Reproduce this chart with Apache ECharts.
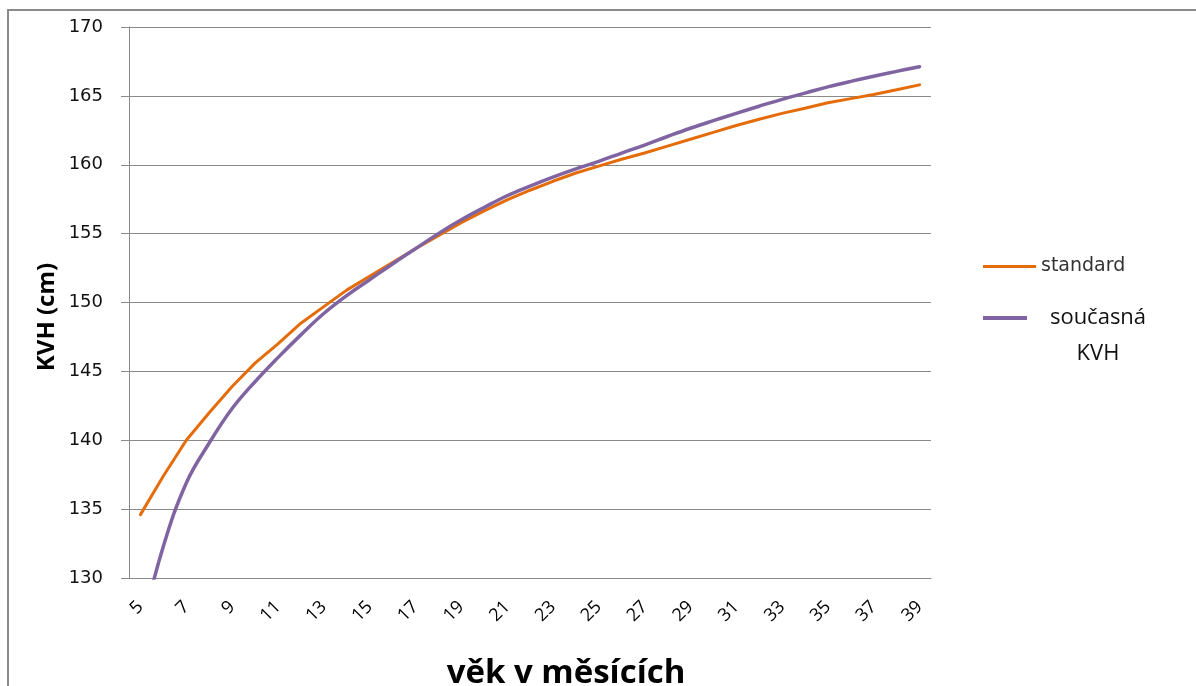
<!DOCTYPE html>
<html>
<head>
<meta charset="utf-8">
<script src="https://cdn.jsdelivr.net/npm/echarts@6/dist/echarts.min.js"></script>
<style>
  html, body { margin: 0; padding: 0; background: #fff; }
  #chart { width: 1196px; height: 686px; }
</style>
</head>
<body>
<div id="chart"></div>
<script>
// Age in months (category axis)
const months = ['5','6','7','8','9','10','11','12','13','14','15','16','17','18','19','20','21','22',
  '23','24','25','26','27','28','29','30','31','32','33','34','35','36','37','38','39'];

// Standard body height curve (cm)
const standard = [134.6, 137.4, 140.0, 142.0, 143.9, 145.6, 147.0, 148.5, 149.7, 150.9, 151.9, 152.9,
  153.9, 154.85, 155.8, 156.65, 157.45, 158.15, 158.8, 159.4, 159.9, 160.4, 160.85, 161.35, 161.85,
  162.35, 162.85, 163.3, 163.73, 164.1, 164.5, 164.8, 165.1, 165.45, 165.8];

// Current body height curve (cm)
const soucasna = [126.0, 132.3, 136.9, 139.8, 142.3, 144.25, 146.0, 147.65, 149.2, 150.5, 151.65,
  152.8, 153.9, 155.0, 156.0, 156.9, 157.75, 158.45, 159.1, 159.7, 160.25, 160.85, 161.43,
  162.05, 162.65, 163.2, 163.73, 164.25, 164.75, 165.2, 165.65, 166.05, 166.42, 166.78, 167.12];

// Value axis range
const yMin = 130, yMax = 170, yStep = 5;

const gridColor = '#8a8a8a';
const orange = '#E46C0A';
const purple = '#8064A2';

const chart = echarts.init(document.getElementById('chart'), null, { renderer: 'canvas' });

chart.setOption({
  backgroundColor: '#ffffff',
  animation: false,
  grid: { left: 129, right: 265, top: 27, bottom: 108, containLabel: false },
  xAxis: {
    type: 'category',
    data: months,
    boundaryGap: true,
    axisLine: { show: true, lineStyle: { color: gridColor, width: 1 } },
    axisTick: { show: false },
    axisLabel: {
      interval: 1,
      rotate: 45,
      margin: 26,
      fontFamily: 'Open Sans',
      fontSize: 18,
      color: '#000'
    },
    splitLine: { show: false }
  },
  yAxis: {
    type: 'value',
    min: yMin,
    max: yMax,
    interval: yStep,
    axisLine: { show: true, lineStyle: { color: gridColor, width: 1 } },
    axisTick: { show: true, inside: false, length: 8, lineStyle: { color: gridColor } },
    axisLabel: {
      margin: 26,
      fontFamily: 'DejaVu Sans',
      fontSize: 18,
      color: '#111'
    },
    splitLine: { show: true, lineStyle: { color: gridColor, width: 1 } }
  },
  legend: [
    {
      data: [{ name: 'standard', icon: 'rect' }],
      left: 983,
      top: 257,
      padding: 0,
      orient: 'vertical',
      itemWidth: 53,
      itemHeight: 3,
      itemGap: 0,
      textStyle: { fontFamily: 'DejaVu Sans', fontSize: 19, color: '#333' },
      selectedMode: false
    },
    {
      data: [{ name: 'současná KVH', icon: 'rect' }],
      left: 983,
      top: 264,
      padding: 0,
      orient: 'vertical',
      itemWidth: 44,
      itemHeight: 4,
      itemGap: 0,
      formatter: function () { return '\n{a|současná}\n{a|KVH}'; },
      textStyle: {
        fontFamily: 'Open Sans',
        fontSize: 22,
        lineHeight: 36,
        color: '#111',
        rich: {
          a: { fontFamily: 'Open Sans', fontSize: 22, lineHeight: 36, width: 132, align: 'center', color: '#111' }
        }
      },
      selectedMode: false
    }
  ],
  series: [
    {
      name: 'standard',
      type: 'line',
      data: standard,
      showSymbol: false,
      symbol: 'none',
      smooth: false,
      clip: true,
      lineStyle: { color: orange, width: 3, cap: 'round', join: 'round' },
      itemStyle: { color: orange }
    },
    {
      name: 'současná KVH',
      type: 'line',
      data: soucasna,
      showSymbol: false,
      symbol: 'none',
      smooth: 0.4,
      clip: true,
      lineStyle: { color: purple, width: 3.5, cap: 'round', join: 'round' },
      itemStyle: { color: purple }
    }
  ],
  graphic: [
    {
      type: 'rect',
      silent: true,
      shape: { x: 8, y: 10, width: 1400, height: 900 },
      style: { fill: 'none', stroke: '#8a8a8a', lineWidth: 2 }
    },
    {
      type: 'text',
      silent: true,
      x: 47,
      y: 317,
      rotation: Math.PI / 2,
      style: {
        text: 'KVH (cm)',
        x: 0,
        y: 0,
        align: 'center',
        verticalAlign: 'middle',
        fontFamily: 'Open Sans',
        fontWeight: 'bold',
        fontSize: 24,
        fill: '#000'
      }
    },
    {
      type: 'text',
      silent: true,
      x: 566,
      y: 674,
      style: {
        text: 'věk v měsících',
        x: 0,
        y: 0,
        align: 'center',
        verticalAlign: 'middle',
        fontFamily: 'Open Sans',
        fontWeight: 'bold',
        fontSize: 33,
        fill: '#000'
      }
    }
  ]
});
</script>
</body>
</html>
